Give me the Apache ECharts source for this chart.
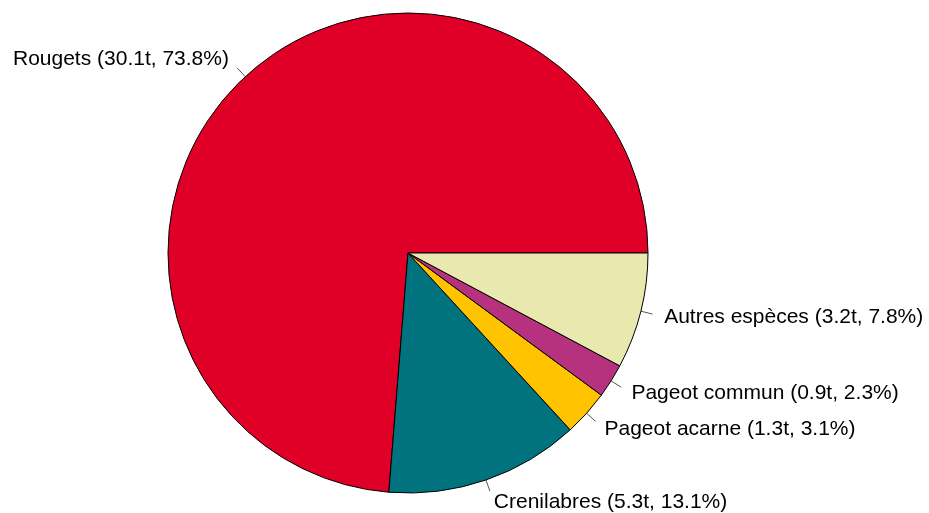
<!DOCTYPE html>
<html><head><meta charset="utf-8">
<script src="https://cdn.jsdelivr.net/npm/echarts@6/dist/echarts.min.js"></script>
<style>html,body{margin:0;padding:0;background:#fff}#c{width:929px;height:513px}</style>
</head><body><div id="c"></div>
<script>
const categories = ['Rougets', 'Crenilabres', 'Pageot acarne', 'Pageot commun', 'Autres espèces'];
const tonnes = [30.1, 5.3, 1.3, 0.9, 3.2];
const percents = [73.8, 13.1, 3.1, 2.3, 7.8];
const colors = ['#E00027', '#00737F', '#FFC300', '#B6327F', '#E8E8AF'];

const chart = echarts.init(document.getElementById('c'));
chart.setOption({
  animation: false,
  series: [{
    type: 'pie',
    center: [408, 253],
    radius: 240,
    startAngle: 0,
    clockwise: false,
    avoidLabelOverlap: false,
    minAngle: 0,
    data: categories.map((n, i) => ({
      name: n, value: percents[i],
      itemStyle: { color: colors[i] },
      label: { formatter: n + ' (' + tonnes[i] + 't, ' + percents[i] + '%)' }
    })),
    itemStyle: { borderColor: '#000', borderWidth: 1 },
    label: {
      show: true, position: 'outside', color: '#000',
      fontFamily: 'Liberation Sans, Arial, sans-serif', fontSize: 21,
      distanceToLabelLine: 0
    },
    labelLine: { show: true, length: 12, length2: 0, smooth: false,
      lineStyle: { color: '#555', width: 1 } },
    labelLayout: function (p) {
      const pts = p.labelLinePoints;
      if (!pts) return {};
      const ux = (pts[1][0] - pts[0][0]), uy = (pts[1][1] - pts[0][1]);
      return { dx: ux, dy: uy };
    },
    emphasis: { disabled: true }
  }]
});
</script></body></html>
